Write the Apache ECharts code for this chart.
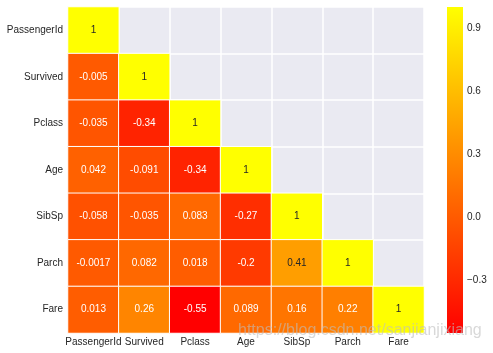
<!DOCTYPE html>
<html>
<head>
<meta charset="utf-8">
<script src="https://cdn.jsdelivr.net/npm/echarts@6/dist/echarts.min.js"></script>
<style>
  html, body { margin: 0; padding: 0; background: #fff; }
  #main { width: 493px; height: 353px; }
</style>
</head>
<body>
<div id="main"></div>
<script>
var chart = echarts.init(document.getElementById('main'));

// feature names (rows top to bottom, columns left to right)
var features = ['PassengerId', 'Survived', 'Pclass', 'Age', 'SibSp', 'Parch', 'Fare'];

// lower triangle of the correlation matrix, one row per feature
var corrRows = [
    [1],
    [-0.005, 1],
    [-0.035, -0.34, 1],
    [0.042, -0.091, -0.34, 1],
    [-0.058, -0.035, 0.083, -0.27, 1],
    [-0.0017, 0.082, 0.018, -0.2, 0.41, 1],
    [0.013, 0.26, -0.55, 0.089, 0.16, 0.22, 1]
];

var colorbarTicks = [-0.3, 0, 0.3, 0.6, 0.9];
var vmin = -0.55;
var vmax = 1;

// text colour like seaborn: dark on light cells, white otherwise
function textColor(v) {
    var t = (v - vmin) / (vmax - vmin);
    var g = t <= 0.03928 ? t / 12.92 : Math.pow((t + 0.055) / 1.055, 2.4);
    var lum = 0.2126 + 0.7152 * g;
    return lum > 0.408 ? '#262626' : '#ffffff';
}

var cells = [];
corrRows.forEach(function (row, i) {
    row.forEach(function (v, j) {
        cells.push({
            value: [j, i, v],
            label: { color: textColor(v) }
        });
    });
});

var option = {
    backgroundColor: '#ffffff',
    animation: false,
    textStyle: { fontFamily: 'Liberation Sans, Arial, sans-serif' },
    grid: [
        {
            left: 68, top: 7, width: 356, height: 326,
            show: true, backgroundColor: '#EAEAF2', borderWidth: 0
        },
        { left: 447, top: 7, width: 16, height: 326 }
    ],
    xAxis: [
        {
            gridIndex: 0,
            type: 'category',
            data: features,
            axisLine: { show: false },
            axisTick: { show: false },
            axisLabel: { color: '#262626', fontSize: 10, margin: 4, interval: 0 },
            splitLine: { show: true, lineStyle: { color: '#ffffff', width: 1.5 } }
        },
        {
            gridIndex: 1, type: 'value', min: 0, max: 1, show: false
        }
    ],
    yAxis: [
        {
            gridIndex: 0,
            type: 'category',
            data: features,
            inverse: true,
            axisLine: { show: false },
            axisTick: { show: false },
            axisLabel: { color: '#262626', fontSize: 10, margin: 5, interval: 0 },
            splitLine: { show: true, lineStyle: { color: '#ffffff', width: 1.5 } }
        },
        {
            gridIndex: 1,
            type: 'value',
            min: vmin,
            max: vmax,
            position: 'right',
            axisLine: { show: false },
            axisTick: { show: false },
            splitLine: { show: false },
            axisLabel: {
                customValues: colorbarTicks,
                color: '#262626',
                fontSize: 10,
                margin: 4,
                formatter: function (v) {
                    return v.toFixed(1).replace('-', '\u2212');
                }
            }
        }
    ],
    visualMap: {
        show: false,
        seriesIndex: 0,
        dimension: 2,
        min: vmin,
        max: vmax,
        inRange: { color: ['#ff0000', '#ffff00'] }
    },
    graphic: [
        {
            type: 'text',
            left: 238,
            top: 323,
            silent: true,
            z: 100,
            style: {
                text: 'https://blog.csdn.net/sanjianjixiang',
                fill: 'rgba(190,190,190,0.6)',
                fontSize: 16,
                fontFamily: 'Liberation Sans, Arial, sans-serif'
            }
        }
    ],
    series: [
        {
            type: 'heatmap',
            xAxisIndex: 0,
            yAxisIndex: 0,
            data: cells,
            label: {
                show: true,
                fontSize: 10,
                formatter: function (p) { return String(p.value[2]); }
            },
            itemStyle: { borderColor: '#ffffff', borderWidth: 1 }
        },
        {
            type: 'custom',
            xAxisIndex: 1,
            yAxisIndex: 1,
            data: [[vmin, vmax]],
            renderItem: function (params, api) {
                var p0 = api.coord([0, api.value(0)]);
                var p1 = api.coord([1, api.value(1)]);
                return {
                    type: 'rect',
                    shape: { x: p0[0], y: p1[1], width: p1[0] - p0[0], height: p0[1] - p1[1] },
                    style: {
                        fill: new echarts.graphic.LinearGradient(0, 0, 0, 1, [
                            { offset: 0, color: '#ffff00' },
                            { offset: 1, color: '#ff0000' }
                        ])
                    }
                };
            }
        }
    ]
};

chart.setOption(option);
</script>
</body>
</html>
